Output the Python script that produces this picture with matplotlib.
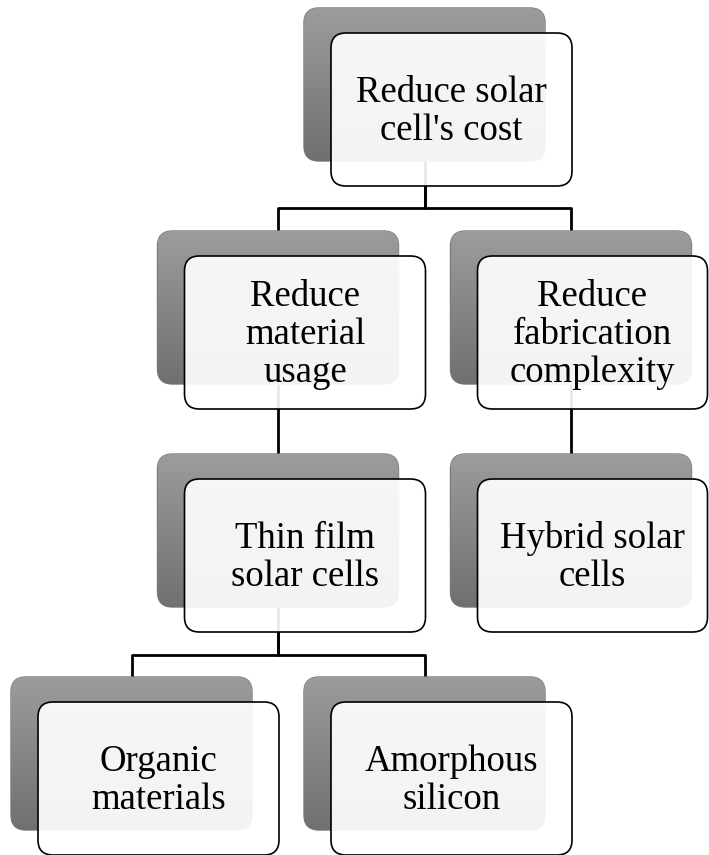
import matplotlib
matplotlib.use('Agg')
import matplotlib.pyplot as plt
from matplotlib.patches import FancyBboxPatch
import numpy as np

# ─── Data: hierarchy ───
labels = [
    "Reduce solar\ncell's cost",
    "Reduce\nmaterial\nusage",
    "Reduce\nfabrication\ncomplexity",
    "Thin film\nsolar cells",
    "Hybrid solar\ncells",
    "Organic\nmaterials",
    "Amorphous\nsilicon",
]
parents = [None, 0, 0, 1, 2, 3, 3]
columns = [2, 1, 3, 1, 3, 0, 2]

# ─── Layout (pixels, y down) ───
W, H = 709, 855
x0, col_step = 11, 146.5
y0, level_step = 8, 223
bw, bh = 241, 153
off_x, off_y = 27, 25
radius = 15


def level_of(i):
    lv = 0
    while parents[i] is not None:
        i = parents[i]
        lv += 1
    return lv


pos = [(x0 + col_step * c, y0 + level_step * level_of(i)) for i, c in enumerate(columns)]

fig = plt.figure(figsize=(W / 100, H / 100), dpi=100)
ax = fig.add_axes([0, 0, 1, 1])
ax.set_xlim(0, W)
ax.set_ylim(H, 0)
ax.axis("off")

# connectors
for i, p in enumerate(parents):
    if p is None:
        continue
    px, py = pos[p]
    cx, cy = pos[i]
    pcx = px + bw / 2
    ccx = cx + bw / 2
    mid = (py + off_y + bh + cy) / 2
    siblings = [k for k, q in enumerate(parents) if q == p]
    if len(siblings) == 1:
        ax.plot([pcx, ccx], [py + bh, cy], color="black", lw=2, zorder=1,
                solid_capstyle="butt")
    else:
        ax.plot([pcx, pcx, ccx, ccx], [py + bh, mid, mid, cy], color="black", lw=2,
                zorder=1, solid_capstyle="projecting")

# gradient for back boxes
grad = np.linspace(0, 1, 256).reshape(-1, 1)
top_c = np.array([0x9c, 0x9c, 0x9c]) / 255
bot_c = np.array([0x70, 0x70, 0x70]) / 255
grad_img = top_c + (bot_c - top_c) * grad[:, :, None]
grad_img = grad_img * np.ones((1, 2, 1))

for i, lab in enumerate(labels):
    x, y = pos[i]
    back = FancyBboxPatch((x, y), bw, bh,
                          boxstyle=f"round,pad=0,rounding_size={radius}",
                          facecolor="none", edgecolor="#7a7a7a", lw=1.0, zorder=2)
    ax.add_patch(back)
    im = ax.imshow(grad_img, extent=(x, x + bw, y + bh, y), aspect="auto", zorder=2,
                   interpolation="bilinear")
    im.set_clip_path(back)

    fx, fy = x + off_x, y + off_y
    fw = min(bw, W - 1.5 - fx)
    front = FancyBboxPatch((fx, fy), fw, bh,
                           boxstyle=f"round,pad=0,rounding_size={radius}",
                           facecolor=(1, 1, 1, 0.92), edgecolor="black", lw=1.2, zorder=3)
    ax.add_patch(front)
    ax.text(fx + fw / 2, fy + bh / 2 + 2, lab, ha="center", va="center",
            fontsize=26.5, family="Liberation Serif", color="black",
            linespacing=1.14, zorder=4)

plt.savefig("out.png", dpi=100, facecolor="white")
plt.close()
